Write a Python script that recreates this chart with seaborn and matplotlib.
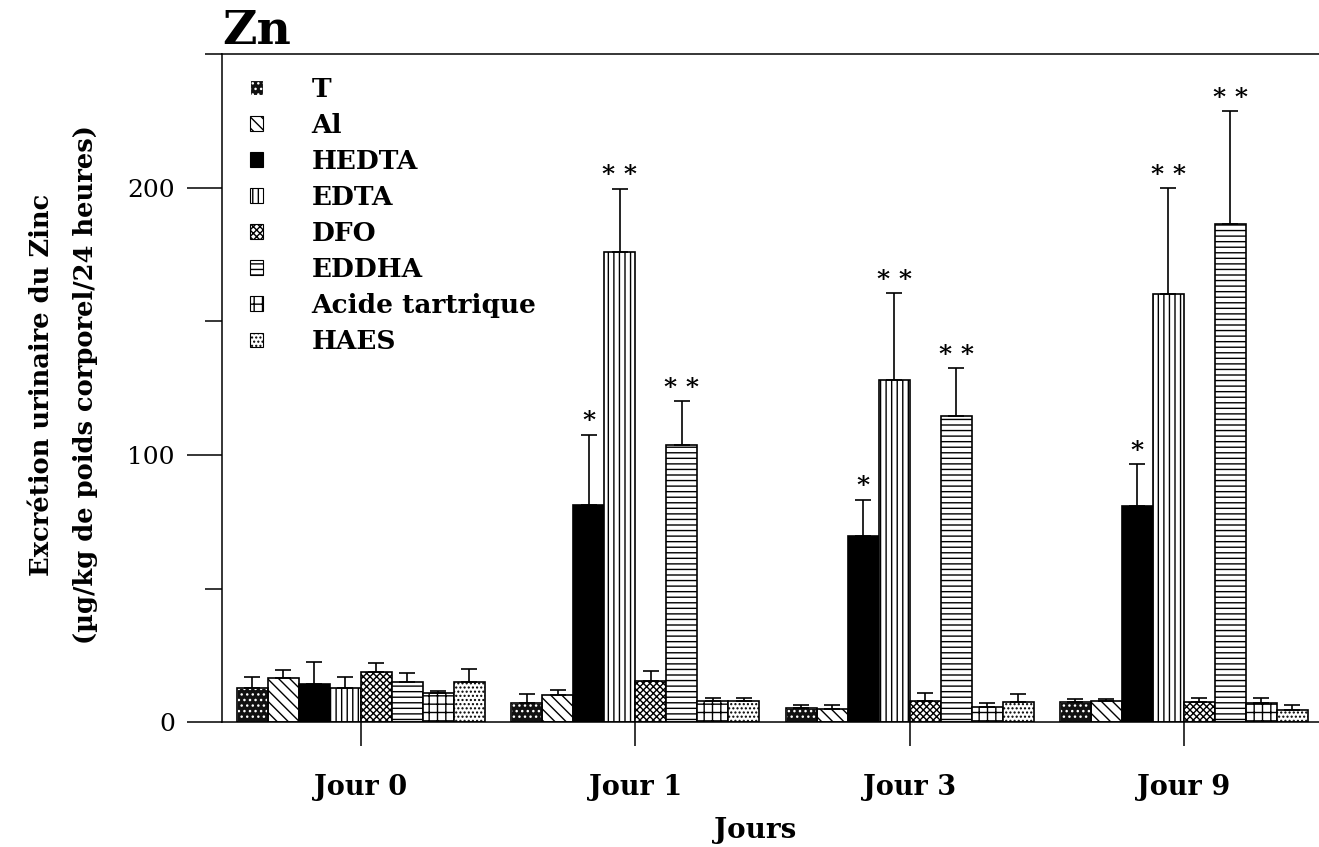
import matplotlib
matplotlib.use("Agg")
import matplotlib.pyplot as plt
from matplotlib.patches import Patch, Rectangle
from matplotlib.ticker import FixedLocator
import numpy as np
import pandas as pd
import seaborn as sns

# --- data -------------------------------------------------------------
jours = ["Jour 0", "Jour 1", "Jour 3", "Jour 9"]
traitements = ["T", "Al", "HEDTA", "EDTA", "DFO", "EDDHA",
               "Acide tartrique", "HAES"]

# mean urinary zinc excretion (µg/kg body weight / 24 h), one list per treatment
moy_T = [13.0, 7.2, 5.4, 7.7]
moy_Al = [16.5, 10.3, 5.2, 8.0]
moy_HEDTA = [14.3, 81.2, 69.6, 80.8]
moy_EDTA = [13.0, 176.0, 127.9, 160.1]
moy_DFO = [19.0, 15.6, 8.2, 7.7]
moy_EDDHA = [15.2, 103.8, 114.5, 186.3]
moy_tartrique = [10.9, 8.0, 5.9, 7.2]
moy_HAES = [15.3, 7.9, 7.8, 4.6]

# standard errors (upper bars only)
se_T = [4.1, 3.5, 1.1, 1.0]
se_Al = [3.2, 1.9, 1.2, 0.8]
se_HEDTA = [8.2, 26.4, 13.7, 15.8]
se_EDTA = [4.1, 23.6, 32.6, 39.6]
se_DFO = [3.3, 3.7, 2.7, 1.3]
se_EDDHA = [3.4, 16.3, 18.0, 42.3]
se_tartrique = [1.0, 1.1, 1.3, 1.8]
se_HAES = [4.7, 1.4, 2.9, 1.9]

# significance versus control
sig_HEDTA = ["", "*", "*", "*"]
sig_EDTA = ["", "* *", "* *", "* *"]
sig_EDDHA = ["", "* *", "* *", "* *"]

moyennes = [moy_T, moy_Al, moy_HEDTA, moy_EDTA, moy_DFO, moy_EDDHA,
            moy_tartrique, moy_HAES]
erreurs = [se_T, se_Al, se_HEDTA, se_EDTA, se_DFO, se_EDDHA,
           se_tartrique, se_HAES]
signif = {"HEDTA": sig_HEDTA, "EDTA": sig_EDTA, "EDDHA": sig_EDDHA}

y_ticks_major = [0, 100, 200]
y_ticks_minor = [50, 150, 250]

df = pd.DataFrame(
    [(j, t, moyennes[i][k]) for i, t in enumerate(traitements)
     for k, j in enumerate(jours)],
    columns=["jour", "traitement", "valeur"],
)

# --- styling ----------------------------------------------------------
sns.set_style("ticks")
plt.rcParams["font.family"] = ["DejaVu Serif"]
plt.rcParams["hatch.linewidth"] = 1.0
plt.rcParams["hatch.color"] = "black"
for key in ["text.color", "axes.labelcolor", "xtick.color", "ytick.color",
            "axes.edgecolor"]:
    plt.rcParams[key] = "black"

# (face colour, hatch colour, hatch)
motifs = {
    "T": ("#111111", "white", "..."),
    "Al": ("white", "black", "\\\\\\"),
    "HEDTA": ("black", "black", ""),
    "EDTA": ("white", "black", "|||"),
    "DFO": ("white", "black", "xxxxx"),
    "EDDHA": ("white", "black", "---"),
    "Acide tartrique": ("white", "black", "++"),
    "HAES": ("white", "black", "...."),
}

fig = plt.figure(figsize=(13.19, 8.47), dpi=100)
ax = fig.add_axes([0.1683, 0.147, 0.8317, 0.7893])

sns.barplot(
    data=df, x="jour", y="valeur", hue="traitement",
    order=jours, hue_order=traitements,
    palette={t: "white" for t in traitements},
    edgecolor="black", linewidth=1.2,
    errorbar=None, width=0.904, gap=0, dodge=True,
    legend=False, ax=ax,
)

for t, cont, se in zip(traitements, ax.containers, erreurs):
    face, hcol, hatch = motifs[t]
    xs, tops = [], []
    for bar in cont:
        bar.set_facecolor(face)
        bar.set_edgecolor(hcol)
        bar.set_hatch(hatch)
        if hcol != "black":
            ax.add_patch(Rectangle((bar.get_x(), bar.get_y()), bar.get_width(),
                                   bar.get_height(), fill=False,
                                   edgecolor="black", linewidth=1.2,
                                   zorder=bar.get_zorder() + 0.1))
        xs.append(bar.get_x() + bar.get_width() / 2)
        tops.append(bar.get_height())
    xs = np.array(xs)
    tops = np.array(tops)
    ax.errorbar(xs, tops, yerr=[np.zeros_like(tops), se], fmt="none",
                ecolor="black", elinewidth=1.2, capsize=5.5, capthick=1.2,
                zorder=3)
    if t in signif:
        for x, top, e, s in zip(xs, tops, se, signif[t]):
            if s:
                ax.annotate(s, (x, top + e), xytext=(0, 1),
                            textcoords="offset points", ha="center",
                            va="bottom", fontsize=18, fontweight="bold")

# --- axes ---------------------------------------------------------------
ax.set_xlim(-0.5067, 3.4925)
ax.set_ylim(0, 250)
ax.yaxis.set_major_locator(FixedLocator(y_ticks_major))
ax.yaxis.set_minor_locator(FixedLocator(y_ticks_minor))
ax.tick_params(axis="y", which="major", direction="out", length=25,
               width=1.1, pad=9, labelsize=18)
ax.tick_params(axis="y", which="minor", direction="out", length=12, width=1.1)
ax.tick_params(axis="x", which="major", direction="out", length=17,
               width=1.1, pad=20, labelsize=19.5)
for lab in ax.get_xticklabels():
    lab.set_fontweight("bold")

for side in ["left", "bottom", "top"]:
    ax.spines[side].set_visible(True)
    ax.spines[side].set_linewidth(1.1)
    ax.spines[side].set_color("black")
ax.spines["right"].set_visible(False)

ax.set_xlabel("Jours", fontsize=20, fontweight="bold")
ax.xaxis.set_label_coords(0.486, -0.141)
ax.set_ylabel("Excrétion urinaire du Zinc\n(µg/kg de poids corporel/24 heures)",
              fontsize=18.5, fontweight="bold", linespacing=1.95)
ax.yaxis.set_label_coords(-0.113, 0.505)

ax.set_title("Zn", loc="left", fontsize=34, fontweight="bold", pad=2)

handles = []
for t in traitements:
    face, hcol, hatch = motifs[t]
    handles.append(Patch(facecolor=face, edgecolor=hcol, hatch=hatch,
                         linewidth=0.8, label=t))
leg = ax.legend(handles=handles, loc="upper left",
                bbox_to_anchor=(0.0255, 0.966), frameon=False,
                fontsize=19, handlelength=0.48, handleheight=0.48,
                handletextpad=1.85, labelspacing=0.42, borderpad=0,
                borderaxespad=0)
for txt in leg.get_texts():
    txt.set_fontweight("bold")

fig.savefig("out.png", dpi=100, facecolor="white")
